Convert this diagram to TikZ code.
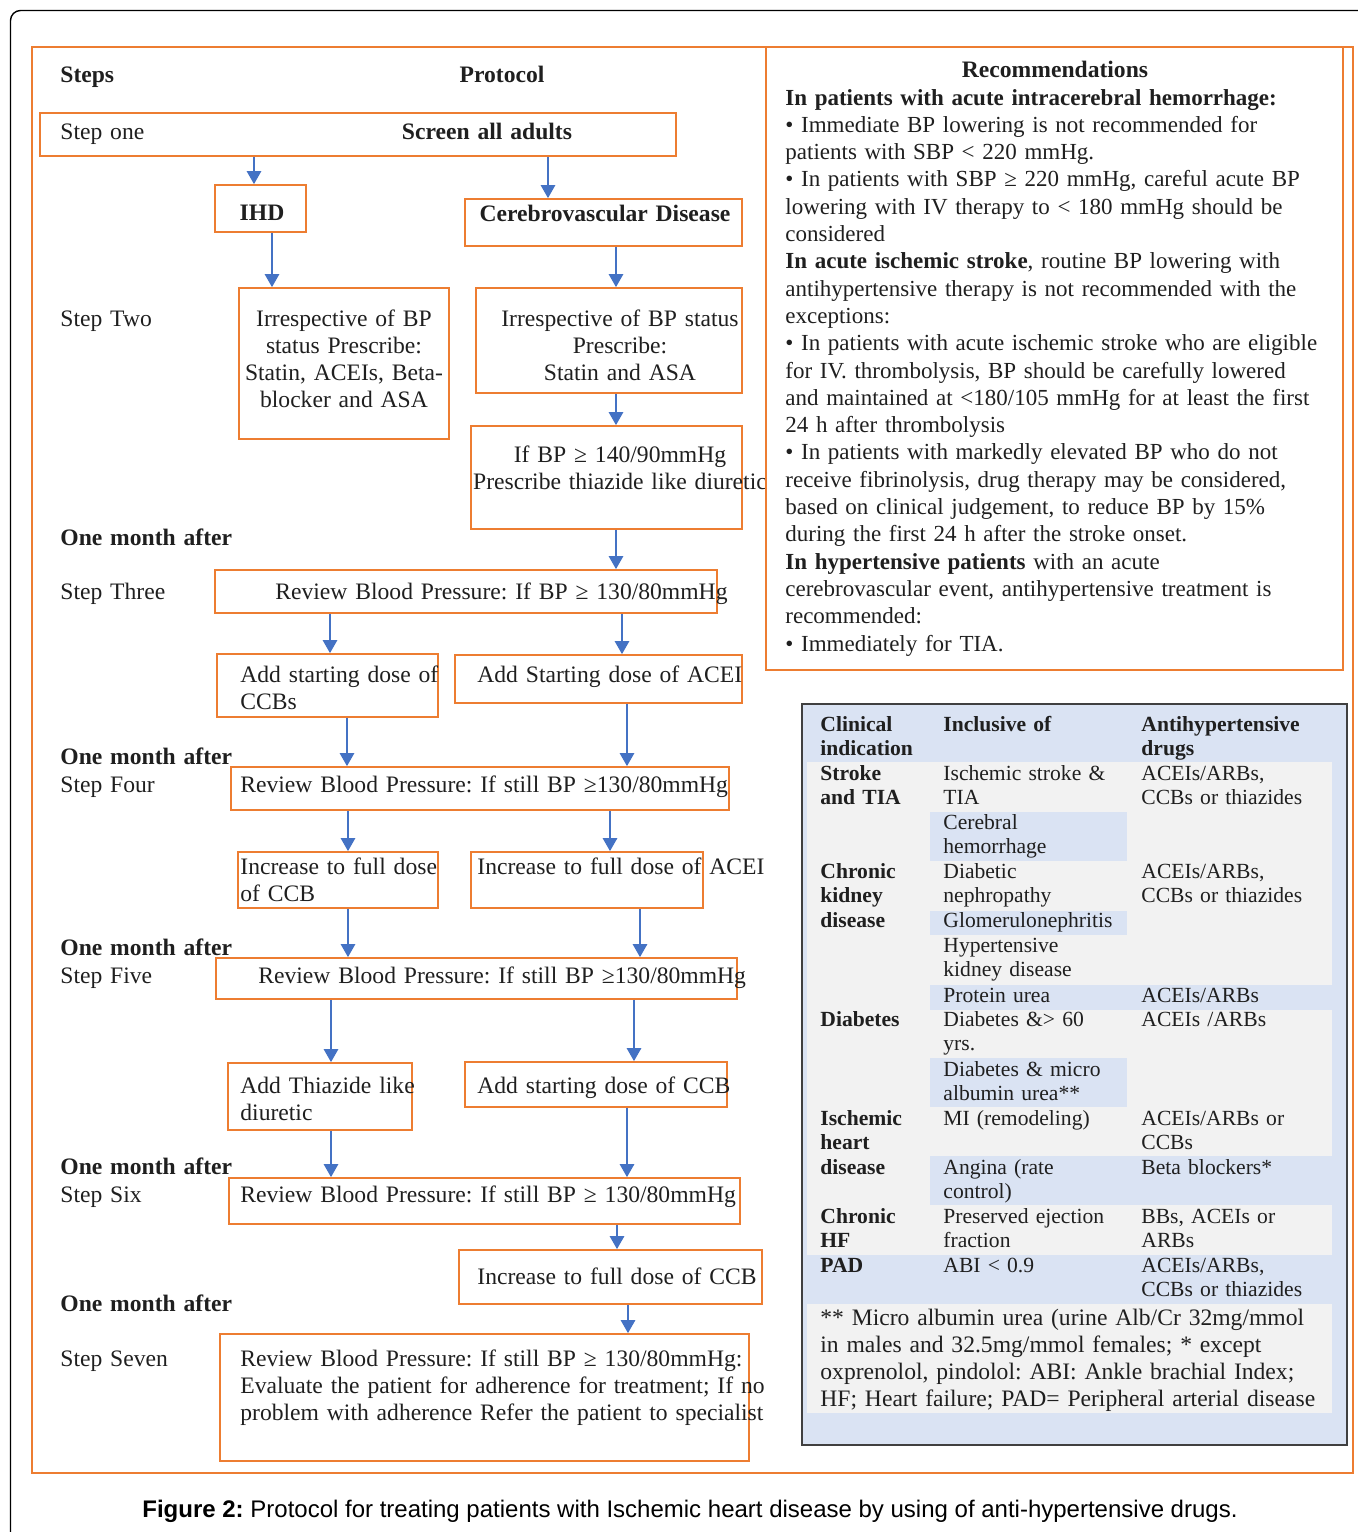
\documentclass[tikz,border=0pt]{standalone}
\usepackage{fontspec}
\setmainfont{Liberation Serif}
\newfontfamily\capfont{Liberation Sans}
\usetikzlibrary{arrows.meta,fit}
\definecolor{chengse}{HTML}{ED7D31}
\definecolor{lanse}{HTML}{4472C4}
\definecolor{qianlan}{HTML}{DAE3F3}
\definecolor{qianhui}{HTML}{F2F2F2}
\definecolor{shenhui}{HTML}{404040}
\tikzset{ % styles
    box/.style={draw=chengse, line width=0.8pt, inner sep=0pt},
    arr/.style={draw=lanse, line width=1.3pt, -{Triangle[width=7pt,length=6.5pt]}},
    ltxt/.style={inner sep=0pt, anchor=base west, align=left, text width=300pt, text=black!88,
        font=\fontsize{11.8}{13.6}\selectfont},
    ctxt/.style={inner sep=0pt, anchor=base, align=center, text width=200pt, text=black!88,
        font=\fontsize{11.8}{13.6}\selectfont},
    rtxt/.style={ltxt, font=\fontsize{11.5}{13.65}\selectfont},
    ttxt/.style={inner sep=0pt, anchor=base west, align=left, text width=120pt, text=black!88,
        font=\fontsize{10.8}{12.25}\selectfont},
}
\frenchspacing
\begin{document}
\begin{tikzpicture}[x=0.5pt,y=-0.5pt]
	\useasboundingbox (0,0) rectangle (1358,1532);
	\draw[line width=0.7pt, rounded corners=5pt] (10.5,1532) -- (10.5,10.5) -- (1358,10.5);
	\draw[chengse, line width=0.8pt] (32,47) rectangle (1353,1473);
	% protocol boxes
	\node[box, fit={(40,113) (676,156)}] (s1) {};
	\node[box, fit={(215,185) (306,232)}] (ihd) {};
	\node[box, fit={(465,199) (742,246)}] (cvd) {};
	\node[box, fit={(239,288) (449,439)}] (ihdrx) {};
	\node[box, fit={(476,288) (742,393)}] (cvdrx) {};
	\node[box, fit={(471,426) (742,529)}] (thz) {};
	\node[box, fit={(215,570) (717,613)}] (rv3) {};
	\node[box, fit={(217,654) (438,717)}] (ccb3) {};
	\node[box, fit={(455,655) (742,703)}] (ace3) {};
	\node[box, fit={(231,767) (729,810)}] (rv4) {};
	\node[box, fit={(238,852) (438,908)}] (ccb4) {};
	\node[box, fit={(471,852) (703,908)}] (ace4) {};
	\node[box, fit={(216,958) (737,999)}] (rv5) {};
	\node[box, fit={(228,1063) (412,1130)}] (thz5) {};
	\node[box, fit={(465,1062) (727,1107)}] (ccb5) {};
	\node[box, fit={(229,1178) (740,1224)}] (rv6) {};
	\node[box, fit={(459,1250) (762,1304)}] (ccb6) {};
	\node[box, fit={(220,1334) (749,1461)}] (rv7) {};
	\foreach \a/\b/\x in {s1/ihd/254, s1/cvd/548, ihd/ihdrx/272, cvd/cvdrx/616, cvdrx/thz/616,
		thz/rv3/616, rv3/ccb3/330, rv3/ace3/622, ccb3/rv4/347, ace3/rv4/627, rv4/ccb4/348,
		rv4/ace4/610, ccb4/rv5/348, ace4/rv5/640, rv5/thz5/331, rv5/ccb5/634, thz5/rv6/331,
		ccb5/rv6/627, rv6/ccb6/617, ccb6/rv7/628}{
		\draw[arr] (\a.south -| \x,0) -- (\b.north -| \x,0);
	}
	% protocol texts
	\node[ltxt] (hsteps) at (60,82) {\textbf{Steps}};
	\node[ctxt] (hprot) at (502,82) {\textbf{Protocol}};
	\node[ltxt] (st1) at (60,139) {Step one};
	\node[ctxt] (t1) at (487,139) {\textbf{Screen all adults}};
	\node[ctxt] (tihd) at (262,220) {\textbf{IHD}};
	\node[ctxt] (tcvd) at (605,221) {\textbf{Cerebrovascular Disease}};
	\foreach \y/\s in {326/Step Two, 599/Step Three, 792/Step Four, 983/Step Five, 1202/Step Six, 1366/Step Seven}{
		\node[ltxt] (st\y) at (60,\y) {\s};
	}
	\foreach \y in {545,764,955,1174,1311}{
		\node[ltxt] (om\y) at (60,\y) {\textbf{One month after}};
	}
	\node[ctxt] (tihdrx) at (344,326) {Irrespective of BP\\status Prescribe:\\Statin, ACEIs, Beta-\\blocker and ASA};
	\node[ctxt] (tcvdrx) at (620,326) {Irrespective of BP status\\Prescribe:\\Statin and ASA};
	\node[ctxt] (tthz) at (620,462) {If BP ≥ 140/90mmHg\\Prescribe thiazide like diuretic};
	\node[ltxt] (trv3) at (275,599) {Review Blood Pressure: If BP ≥ 130/80mmHg};
	\node[ltxt] (tccb3) at (240,682) {Add starting dose of\\CCBs};
	\node[ltxt] (tace3) at (477,682) {Add Starting dose of ACEI};
	\node[ltxt] (trv4) at (240,792) {Review Blood Pressure: If still BP ≥130/80mmHg};
	\node[ltxt] (tccb4) at (240,874) {Increase to full dose\\of CCB};
	\node[ltxt] (tace4) at (477,874) {Increase to full dose of ACEI};
	\node[ltxt] (trv5) at (258,983) {Review Blood Pressure: If still BP ≥130/80mmHg};
	\node[ltxt] (tthz5) at (240,1093) {Add Thiazide like\\diuretic};
	\node[ltxt] (tccb5) at (477,1093) {Add starting dose of CCB};
	\node[ltxt] (trv6) at (240,1202) {Review Blood Pressure: If still BP ≥ 130/80mmHg};
	\node[ltxt] (tccb6) at (477,1284) {Increase to full dose of CCB};
	\node[ltxt] (trv7) at (240,1366) {Review Blood Pressure: If still BP ≥ 130/80mmHg:\\Evaluate the patient for adherence for treatment; If no\\problem with adherence Refer the patient to specialist};
	% recommendations
	\node[box, fit={(766,47) (1343,670)}] (rec) {};
	\node[ctxt] (hrec) at (1055,77) {\textbf{Recommendations}};
	\node[rtxt] (trec) at (785,105) {\textbf{In patients with acute intracerebral hemorrhage:}\\
		• Immediate BP lowering is not recommended for\\
		patients with SBP < 220 mmHg.\\
		• In patients with SBP ≥ 220 mmHg, careful acute BP\\
		lowering with IV therapy to < 180 mmHg should be\\
		considered\\
		\textbf{In acute ischemic stroke}, routine BP lowering with\\
		antihypertensive therapy is not recommended with the\\
		exceptions:\\
		• In patients with acute ischemic stroke who are eligible\\
		for IV. thrombolysis, BP should be carefully lowered\\
		and maintained at <180/105 mmHg for at least the first\\
		24 h after thrombolysis\\
		• In patients with markedly elevated BP who do not\\
		receive fibrinolysis, drug therapy may be considered,\\
		based on clinical judgement, to reduce BP by 15\%\\
		during the first 24 h after the stroke onset.\\
		\textbf{In hypertensive patients} with an acute\\
		cerebrovascular event, antihypertensive treatment is\\
		recommended:\\
		• Immediately for TIA.};
	% table
	\node[fill=qianlan, draw=shenhui, line width=1pt, inner sep=0pt, fit={(802,704) (1347,1445)}] (tab) {};
	\fill[qianhui] (807,762) rectangle (1332,1255);
	\fill[qianhui] (807,1304) rectangle (1332,1413);
	\foreach \ya/\yb/\xb in {812/861/1127, 911/935/1127, 985/1010/1332, 1058/1107/1127, 1156/1205/1332}{
		\fill[qianlan] (930,\ya) rectangle (\xb,\yb);
	}
	\foreach \y/\s in {731/Clinical\\indication, 780/Stroke\\and TIA, 878/Chronic\\kidney\\disease, 1026/Diabetes,
		1125/Ischemic\\heart\\disease, 1223/Chronic\\HF, 1272/PAD}{
		\node[ttxt] (ca\y) at (820,\y) {\textbf{\s}};
	}
	\node[ttxt] (cbh) at (943,731) {\textbf{Inclusive of}};
	\node[ttxt] (cch) at (1141,731) {\textbf{Antihypertensive}\\\textbf{drugs}};
	\foreach \y/\s in {780/Ischemic stroke \&\\TIA, 829/Cerebral\\hemorrhage, 878/Diabetic\\nephropathy,
		927/Glomerulonephritis, 952/Hypertensive\\kidney disease, 1002/Protein urea,
		1026/Diabetes \&> 60\\yrs., 1076/Diabetes \& micro\\albumin urea**, 1125/MI (remodeling),
		1174/Angina (rate\\control), 1223/Preserved ejection\\fraction, 1272/ABI < 0.9}{
		\node[ttxt] (cb\y) at (943,\y) {\s};
	}
	\foreach \y/\s in {780/{ACEIs/ARBs,\\CCBs or thiazides}, 878/{ACEIs/ARBs,\\CCBs or thiazides},
		1002/{ACEIs/ARBs}, 1026/{ACEIs /ARBs}, 1125/{ACEIs/ARBs or\\CCBs}, 1174/{Beta blockers*},
		1223/{BBs, ACEIs or\\ARBs}, 1272/{ACEIs/ARBs,\\CCBs or thiazides}}{
		\node[ttxt] (cc\y) at (1141,\y) {\s};
	}
	\node[ltxt] (tnote) at (820,1325) {** Micro albumin urea (urine Alb/Cr 32mg/mmol\\in males and 32.5mg/mmol females; * except\\oxprenolol, pindolol: ABI: Ankle brachial Index;\\HF; Heart failure; PAD= Peripheral arterial disease};
	% caption
	\node[inner sep=0pt, anchor=base, font=\capfont\fontsize{12}{14}\selectfont] (cap) at (690,1517)
		{\textbf{Figure 2:} Protocol for treating patients with Ischemic heart disease by using of anti-hypertensive drugs.};
\end{tikzpicture}
\end{document}
